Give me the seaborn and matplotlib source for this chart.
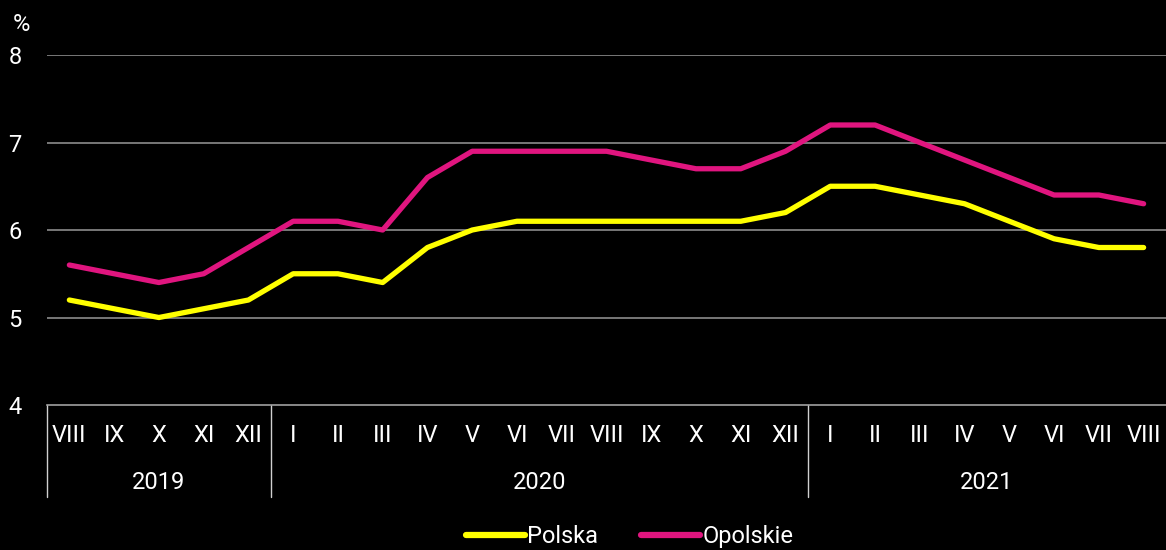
import matplotlib
matplotlib.use("Agg")
import matplotlib.pyplot as plt
import matplotlib.transforms as mtransforms
import numpy as np
import pandas as pd
import seaborn as sns

# stopa bezrobocia, VIII 2019 - VIII 2021
months = ["VIII", "IX", "X", "XI", "XII",
          "I", "II", "III", "IV", "V", "VI", "VII", "VIII", "IX", "X", "XI", "XII",
          "I", "II", "III", "IV", "V", "VI", "VII", "VIII"]
years = ["2019", "2020", "2021"]
year_counts = [5, 12, 8]

polska = [5.2, 5.1, 5.0, 5.1, 5.2,
          5.5, 5.5, 5.4, 5.8, 6.0, 6.1, 6.1, 6.1, 6.1, 6.1, 6.1, 6.2,
          6.5, 6.5, 6.4, 6.3, 6.1, 5.9, 5.8, 5.8]
opolskie = [5.6, 5.5, 5.4, 5.5, 5.8,
            6.1, 6.1, 6.0, 6.6, 6.9, 6.9, 6.9, 6.9, 6.8, 6.7, 6.7, 6.9,
            7.2, 7.2, 7.0, 6.8, 6.6, 6.4, 6.4, 6.3]

series_names = ["Polska", "Opolskie"]
colors = {"Polska": "#FFFF00", "Opolskie": "#E0157F"}

df = pd.DataFrame({
    "idx": list(range(len(months))) * 2,
    "value": polska + opolskie,
    "series": ["Polska"] * len(polska) + ["Opolskie"] * len(opolskie),
})

sns.set_theme(style="dark")
plt.rcParams["font.family"] = ["Roboto", "DejaVu Sans"]
plt.rcParams["figure.facecolor"] = "black"
plt.rcParams["axes.facecolor"] = "black"

FS = 17

fig = plt.figure(figsize=(11.66, 5.5), dpi=100)
ax = fig.add_axes([0.0403, 0.2636, 0.9597, 0.6364])

sns.lineplot(data=df, x="idx", y="value", hue="series", hue_order=series_names,
             palette=colors, linewidth=3.8, ax=ax, legend=False,
             solid_capstyle="round", solid_joinstyle="round")

n = len(months)
ax.set_xlim(-0.5, n - 0.5)
ax.set_ylim(4, 8)
ax.set_yticks([4, 5, 6, 7, 8])
ax.set_yticklabels(["4", "5", "6", "7", "8"], color="white", fontsize=FS)
ax.tick_params(axis="y", length=0, pad=23)
for lab in ax.get_yticklabels():
    lab.set_horizontalalignment("center")

ax.grid(False)
for v in [5, 6, 7, 8]:
    ax.axhline(v, color="#8c8c8c", linewidth=1.2, zorder=0)

for s in ["top", "right", "left"]:
    ax.spines[s].set_visible(False)
ax.spines["bottom"].set_color("#a0a0a0")
ax.spines["bottom"].set_linewidth(1.2)

ax.set_xticks(range(n))
ax.set_xticklabels(months, color="white", fontsize=FS)
ax.tick_params(axis="x", length=0, pad=14)
ax.set_xlabel("")
ax.set_ylabel("")

trans = mtransforms.blended_transform_factory(ax.transData, ax.transAxes)
start = -0.5
bounds = [start]
for y, c in zip(years, year_counts):
    mid = start + c / 2
    ax.text(mid, -0.22, y, transform=trans, ha="center", va="center",
            color="white", fontsize=FS)
    start += c
    bounds.append(start)
for b in bounds[:-1]:
    ax.plot([b, b], [0, -0.263], transform=trans, color="#d0d0d0",
            linewidth=1.0, clip_on=False)

fig.text(0.011, 0.955, "%", color="white", fontsize=FS, ha="left", va="center")

handles = [plt.Line2D([], [], color=colors[s], linewidth=4.5, solid_capstyle="round")
           for s in series_names]
leg = fig.legend(handles, series_names, loc="center", bbox_to_anchor=(0.54, 0.024),
                 ncol=2, frameon=False, fontsize=FS, handlelength=2.5,
                 handletextpad=0.1, columnspacing=1.8)
for t in leg.get_texts():
    t.set_color("white")

fig.savefig("out.png", dpi=100, facecolor="black")
